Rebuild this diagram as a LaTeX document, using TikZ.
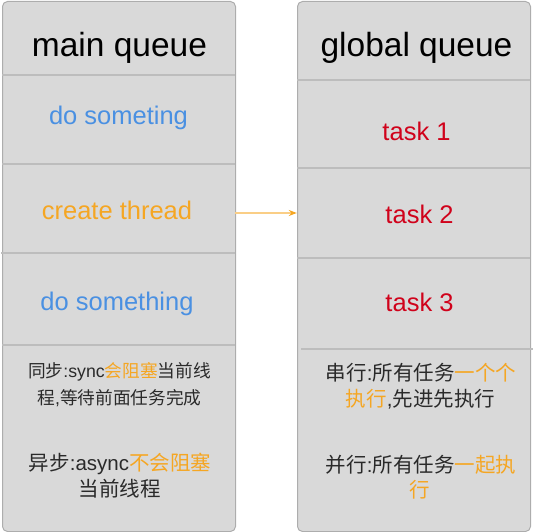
\documentclass[tikz,border=0pt]{standalone}
\usepackage{fontspec}
\setmainfont{Liberation Sans}
\newfontfamily\cjk{Noto Sans CJK SC}
\usetikzlibrary{arrows.meta}
\definecolor{cellfill}{HTML}{D9D9D9}
\definecolor{bordercol}{HTML}{ADADAD}
\definecolor{divcol}{HTML}{BDBDBD}
\definecolor{blueT}{HTML}{4A90E2}
\definecolor{orangeT}{HTML}{F5A623}
\definecolor{redT}{HTML}{D0021B}
\definecolor{noteT}{HTML}{2A2A2A}
\newcommand{\hl}[1]{\textcolor{orangeT}{#1}}
\begin{document}
\begin{tikzpicture}[x=1pt,y=-1pt,
  panel/.style={draw=bordercol, fill=cellfill, rounded corners=5pt, line width=1pt, inner sep=0, anchor=north west},
  cell/.style={inner sep=0, minimum width=233pt},
  divider/.style={draw=divcol, line width=1.3pt},
  title/.style={font=\fontsize{33.5}{38}\selectfont, anchor=base, inner sep=0, text=black},
  item/.style={font=\fontsize{25.5}{30}\selectfont, anchor=base, inner sep=0},
  note/.style={font=\fontsize{17.7}{26}\selectfont, anchor=base, inner sep=0, text=noteT},
  bignote/.style={note, font=\fontsize{20.5}{26}\selectfont},
  flow/.style={draw=orangeT!55, line width=1.3pt, -{Stealth[length=8pt,width=6pt,color=orangeT]}}
]
\useasboundingbox (0,0) rectangle (533,532);
% panels
\node[panel, minimum width=233pt, minimum height=530pt] (lp) at (2,1) {};
\node[panel, minimum width=233pt, minimum height=530pt] (rp) at (297,1) {};
% dividers
\draw[divider] (2,75) -- (235,75);
\draw[divider] (2,164) -- (235,164);
\draw[divider] (1,253) -- (235,253);
\draw[divider] (2,345) -- (235,345);
\draw[divider] (297,80) -- (530,80);
\draw[divider] (297,168) -- (530,168);
\draw[divider] (297,258) -- (530,258);
\draw[divider] (301,349) -- (533,349);
% cells used for the connector
\node[cell, minimum height=89pt] (c2) at (118.5,208.5) {};
\node[cell, minimum height=90pt] (r2) at (413.5,213) {};
% left texts
\node[title] (lt) at (119.5,57) {main queue};
\node[item, text=blueT] (l1) at (118.5,125) {do someting};
\node[item, text=orangeT] (l2) at (117,219) {create thread};
\node[item, text=blueT] (l3) at (117,310) {do something};
\node[note] (ln1) at (119.5,377) {{\cjk 同步}:sync{\cjk\hl{会阻塞}当前线}};
\node[note] (ln2) at (119.5,404) {{\cjk 程},{\cjk 等待前面任务完成}};
\node[bignote] (ln3) at (120,470) {{\cjk 异步}:async{\cjk\hl{不会阻塞}}};
\node[bignote] (ln4) at (119.5,496) {{\cjk 当前线程}};
% right texts
\node[title] (rt) at (416.5,57) {global queue};
\node[item, text=redT] (r1t) at (416.5,141) {task 1};
\node[item, text=redT] (r2t) at (419.5,223) {task 2};
\node[item, text=redT] (r3t) at (419.5,311) {task 3};
\node[bignote] (rn1) at (421,380) {{\cjk 串行}:{\cjk 所有任务\hl{一个个}}};
\node[bignote] (rn2) at (420.5,406) {{\cjk\hl{执行}},{\cjk 先进先执行}};
\node[bignote] (rn3) at (421,472) {{\cjk 并行}:{\cjk 所有任务\hl{一起执}}};
\node[bignote] (rn4) at (420,497) {{\cjk\hl{行}}};
% connector
\draw[flow] (c2.east |- r2.west) -- (r2.west);
\end{tikzpicture}
\end{document}
